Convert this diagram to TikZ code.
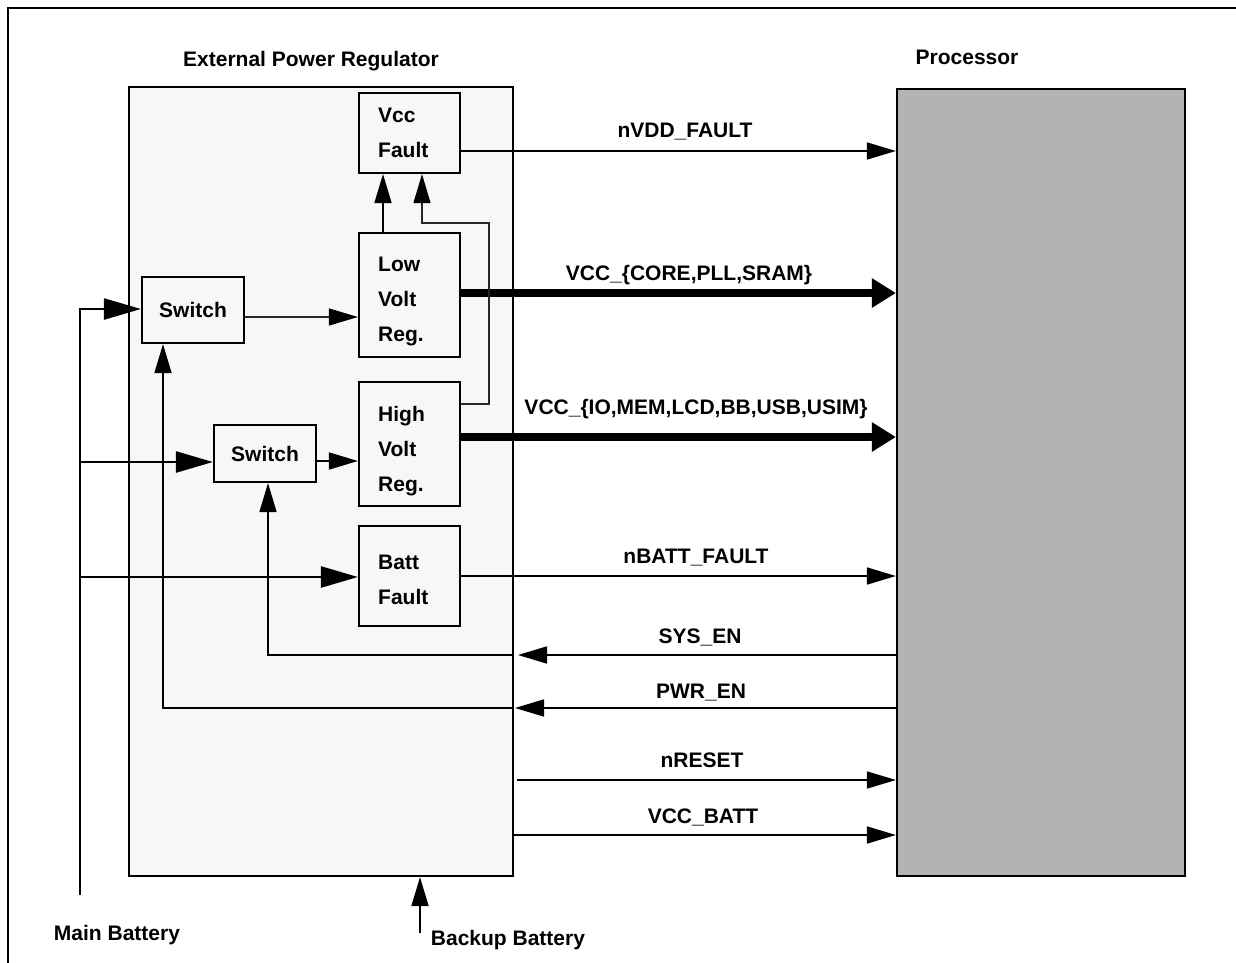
\documentclass[tikz,border=0pt]{standalone}
\usepackage{fontspec}
\setmainfont{Liberation Sans}
\usetikzlibrary{arrows.meta}
\definecolor{regfill}{HTML}{F7F7F7}
\definecolor{procfill}{HTML}{B3B3B3}
\begin{document}
\begin{tikzpicture}[x=1pt,y=-1pt,
  font=\fontsize{21}{24}\selectfont\bfseries,
  box/.style={draw, line width=2.2pt, rectangle, inner sep=0pt},
  blk/.style={box, fill=regfill, minimum width=101pt},
  btxt/.style={anchor=north west, inner sep=0pt, align=left,
    font=\fontsize{21}{35}\selectfont\bfseries},
  sw/.style={box, fill=regfill},
  sig/.style={line width=1.7pt, -{Triangle[length=29pt,width=17pt]}},
  bat/.style={line width=2.5pt, -{Triangle[length=37pt,width=21pt]}},
  fbk/.style={line width=1.2pt, draw=black!85, -{Triangle[length=29pt,width=17pt,fill=black,color=black]}},
  pwr/.style={line width=7.5pt, -{Triangle[length=24pt,width=28pt]}},
  lbl/.style={anchor=base, inner sep=0pt}]
\useasboundingbox (0,0) rectangle (1236,963);
% frame
\draw[line width=2.2pt] (8,963) -- (8,8) -- (1236,8);
% main blocks
\node[box, fill=regfill, minimum width=384pt, minimum height=789pt] (reg) at (321,481.5) {};
\node[box, fill=procfill, minimum width=288pt, minimum height=787pt] (proc) at (1041,482.5) {};
\node[lbl] (regt) at (311,67) {External Power Regulator};
\node[lbl] (proct) at (967,65) {Processor};
% inner blocks
\node[blk, minimum height=80pt] (vcc) at (409.5,133) {};
\node[blk, minimum height=124pt] (low) at (409.5,295) {};
\node[blk, minimum height=124pt] (high) at (409.5,444) {};
\node[blk, minimum height=100pt] (batt) at (409.5,576) {};
\node[btxt] (vcct) at (378,108) {Vcc\\Fault};
\node[btxt] (lowt) at (378,257) {Low\\Volt\\Reg.};
\node[btxt] (hight) at (378,406) {High\\Volt\\Reg.};
\node[btxt] (battt) at (378,555) {Batt\\Fault};
\node[sw, minimum width=102pt, minimum height=66pt] (sw1) at (193,310) {Switch};
\node[sw, minimum width=102pt, minimum height=57pt] (sw2) at (265,453.5) {Switch};
% coordinates
\coordinate (mbtop) at (80,309);
\coordinate (mbbot) at (80,895);
\coordinate (mb2) at (80,462);
\coordinate (mb3) at (80,577);
\coordinate (bb) at (420,933);
\coordinate (sysin) at (518,655);
\coordinate (pwrin) at (515,708);
\coordinate (rstout) at (517,780);
% processor signals
\draw[sig] (vcc.east |- 0,151) -- (proc.west |- 0,151);
\draw[pwr] (low.east |- 0,293) -- (proc.west |- 0,293);
\draw[pwr] (high.east |- 0,437) -- (proc.west |- 0,437);
\draw[sig] (batt.east |- 0,576) -- (proc.west |- 0,576);
\draw[sig] (proc.west |- 0,655) -- (sysin);
\draw[sig] (reg.east |- 0,655) -| ([xshift=3pt]sw2.south);
\draw[sig] (proc.west |- 0,708) -- (pwrin);
\draw[sig] (reg.east |- 0,708) -| ([xshift=-30pt]sw1.south);
\draw[sig] (rstout) -- (proc.west |- 0,780);
\draw[sig] (reg.east |- 0,835) -- (proc.west |- 0,835);
% labels
\node[lbl] (l1) at (685,137) {nVDD\_FAULT};
\node[lbl] (l2) at (689,280) {VCC\_\{CORE,PLL,SRAM\}};
\node[lbl] (l3) at (696,414) {VCC\_\{IO,MEM,LCD,BB,USB,USIM\}};
\node[lbl] (l4) at (696,563) {nBATT\_FAULT};
\node[lbl] (l5) at (700,643) {SYS\_EN};
\node[lbl] (l6) at (701,698) {PWR\_EN};
\node[lbl] (l7) at (702,767) {nRESET};
\node[lbl] (l8) at (703,823) {VCC\_BATT};
% batteries
\draw[bat] (mbbot) -- (mbtop) -- (sw1.west |- mbtop);
\draw[bat] (mb2) -- (sw2.west |- mb2);
\draw[bat] (mb3) -- (batt.west |- mb3);
\draw[sig] (bb) -- (reg.south -| bb);
\node[lbl] (mbl) at (117,940) {Main Battery};
\node[lbl] (bbl) at (508,945) {Backup Battery};
% internal
\draw[fbk] (sw1.east |- 0,317) -- (low.west |- 0,317);
\draw[sig] (sw2.east |- 0,461) -- (high.west |- 0,461);
\draw[sig] (low.north -| 383,0) -- (vcc.south -| 383,0);
\draw[fbk] (high.east |- 0,404) -- (489,404) -- (489,223) -- (422,223) -- (vcc.south -| 422,0);
\end{tikzpicture}
\end{document}
